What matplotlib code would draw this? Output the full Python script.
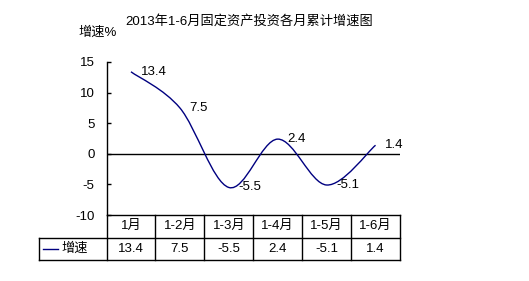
import matplotlib
matplotlib.use("Agg")
import matplotlib.pyplot as plt
from matplotlib.path import Path
from matplotlib.patches import PathPatch
import numpy as np

plt.rcParams['font.family'] = ['Liberation Sans', 'Noto Sans CJK SC', 'DejaVu Sans']

title = "2013年1-6月固定资产投资各月累计增速图"
ylabel = "增速%"
series_name = "增速"
categories = ["1月", "1-2月", "1-3月", "1-4月", "1-5月", "1-6月"]
values = [13.4, 7.5, -5.5, 2.4, -5.1, 1.4]
yticks = [-10, -5, 0, 5, 10, 15]

FS = 9.5
W, H = 529, 281
fig = plt.figure(figsize=(W / 100, H / 100), dpi=100)
left, right, top, bottom = 106.5, 400, 62, 215
ax = fig.add_axes([left / W, 1 - bottom / H, (right - left) / W, (bottom - top) / H])

n = len(categories)
x = np.arange(n)
y = np.array(values, dtype=float)

# smoothed line (Catmull-Rom style Bezier, like Excel smoothing)
verts = [(x[0], y[0])]
codes = [Path.MOVETO]
for i in range(n - 1):
    p0 = np.array([x[max(i - 1, 0)], y[max(i - 1, 0)]])
    p1 = np.array([x[i], y[i]])
    p2 = np.array([x[i + 1], y[i + 1]])
    p3 = np.array([x[min(i + 2, n - 1)], y[min(i + 2, n - 1)]])
    c1 = p1 + (p2 - p0) / 6
    c2 = p2 - (p3 - p1) / 6
    verts += [tuple(c1), tuple(c2), tuple(p2)]
    codes += [Path.CURVE4] * 3
ax.add_patch(PathPatch(Path(verts, codes), fill=False, edgecolor='#000080', lw=1.0, zorder=3))

ax.axhline(0, color='black', lw=1.0, zorder=2)

for xi, yi in zip(x, y):
    ax.annotate(f"{yi:g}", (xi, yi), xytext=(7, 0), textcoords='offset points',
                ha='left', va='center', fontsize=FS)

ax.set_xlim(-0.5, n - 0.5)
ax.set_ylim(min(yticks), max(yticks))
ax.set_yticks(yticks)
ax.set_yticklabels([str(t) for t in yticks], fontsize=FS)
ax.tick_params(axis='y', direction='in', length=3, width=1, pad=8.5)
ax.set_xticks([])
for s in ['top', 'right', 'bottom']:
    ax.spines[s].set_visible(False)
ax.spines['left'].set_linewidth(1.0)

# data table
rowh = 22.5 / (bottom - top)
trans = ax.get_xaxis_transform()
lw = 1.0
unit = (right - left) / n
key_left = -0.5 - (left - 39) / unit
ax.plot([-0.5, n - 0.5], [0, 0], transform=trans, color='black', lw=lw, clip_on=False)
ax.plot([key_left, n - 0.5], [-rowh, -rowh], transform=trans, color='black', lw=lw, clip_on=False)
ax.plot([key_left, n - 0.5], [-2 * rowh, -2 * rowh], transform=trans, color='black', lw=lw, clip_on=False)
for xv in np.arange(-0.5, n, 1.0):
    ax.plot([xv, xv], [0, -2 * rowh], transform=trans, color='black', lw=lw, clip_on=False)
ax.plot([key_left, key_left], [-rowh, -2 * rowh], transform=trans, color='black', lw=lw, clip_on=False)

for xi, c, v in zip(x, categories, values):
    ax.text(xi, -0.5 * rowh, c, transform=trans, ha='center', va='center', fontsize=FS)
    ax.text(xi, -1.5 * rowh, f"{v:g}", transform=trans, ha='center', va='center', fontsize=FS)

# legend key
kx0 = -0.5 - (left - 43) / unit
kx1 = -0.5 - (left - 58) / unit
ax.plot([kx0, kx1], [-1.5 * rowh, -1.5 * rowh], transform=trans, color='#000080', lw=1.0, clip_on=False)
ax.text(-0.5 - (left - 61) / unit, -1.5 * rowh, series_name, transform=trans,
        ha='left', va='center', fontsize=FS)

fig.text(249.5 / W, 1 - 21.5 / H, title, ha='center', va='center', fontsize=FS)
fig.text(78 / W, 1 - 32.5 / H, ylabel, ha='left', va='center', fontsize=FS)

fig.savefig("out.png", dpi=100, facecolor='white')
